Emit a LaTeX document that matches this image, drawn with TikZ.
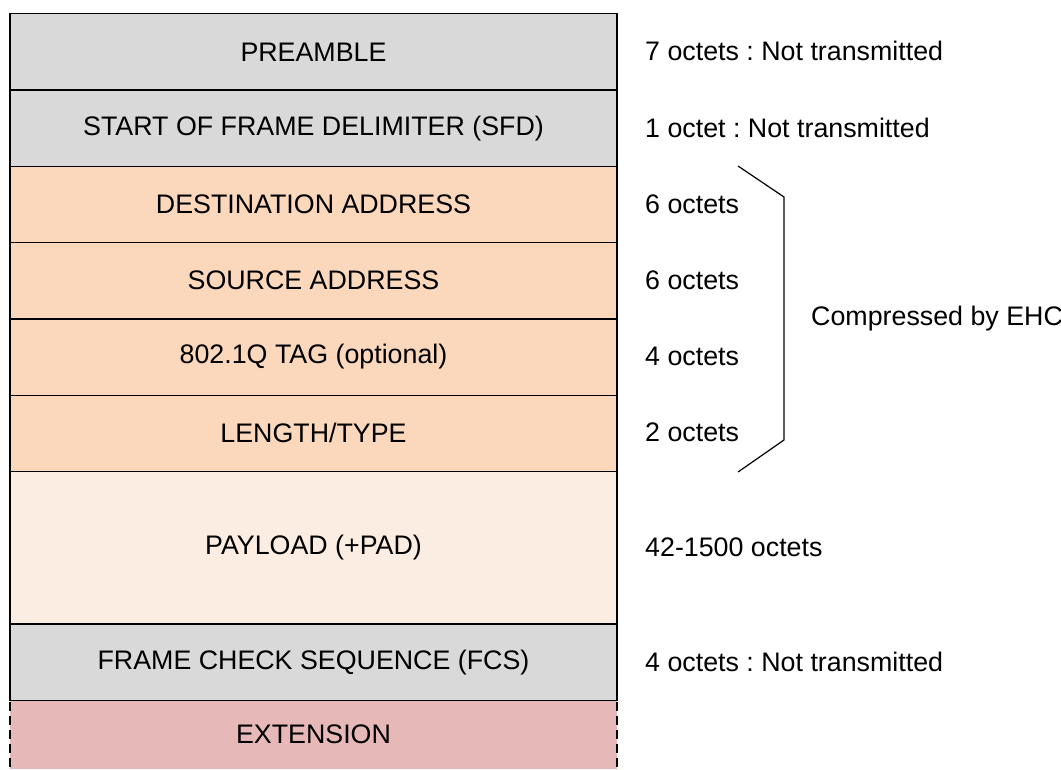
\documentclass[tikz,border=0pt]{standalone}
\usepackage{fontspec}
\setmainfont{Liberation Sans}
\frenchspacing
\definecolor{grayfill}{HTML}{D9D9D9}
\definecolor{peach}{HTML}{FBD7BB}
\definecolor{lightpeach}{HTML}{FCEDE2}
\definecolor{extred}{HTML}{E6B8B7}
\begin{document}
\begin{tikzpicture}[x=1pt,y=-1pt,
  field/.style={draw=black, line width=1.4pt, minimum width=607pt, minimum height=76.3pt, inner sep=0pt, anchor=north, font=\fontsize{26.8}{30}\selectfont},
  note/.style={anchor=west, inner sep=0pt, font=\fontsize{26.8}{30}\selectfont},
  brace/.style={draw=black, line width=1.2pt},
  sidedash/.style={draw=black, line width=2.2pt, dash pattern=on 9pt off 5pt}]
\useasboundingbox (0,0) rectangle (1061,769);
\clip (0,0) rectangle (1061,769);
% extension (drawn first so that FCS outline lies above it)
\node[field, draw=none, fill=extred, minimum height=70pt, outer sep=0pt] (ext) at (313.5,699.3) {EXTENSION};
\draw[sidedash] ([yshift=-3pt]ext.north west) -- (ext.south west);
\draw[sidedash] ([yshift=-3pt]ext.north east) -- (ext.south east);
\node[field, fill=grayfill] (pre) at (313.5,13) {PREAMBLE};
\node[field, fill=grayfill] (sfd) at (313.5,89.3) {START OF FRAME DELIMITER (SFD)};
\node[field, fill=peach] (da) at (313.5,165.6) {DESTINATION ADDRESS};
\node[field, fill=peach] (sa) at (313.5,241.9) {SOURCE ADDRESS};
\node[field, fill=peach] (tag) at (313.5,318.2) {802.1Q TAG (optional)};
\node[field, fill=peach] (len) at (313.5,394.5) {LENGTH/TYPE};
\node[field, fill=lightpeach, minimum height=152.6pt] (pay) at (313.5,470.8) {PAYLOAD (+PAD)};
\node[field, fill=grayfill] (fcs) at (313.5,623.4) {FRAME CHECK SEQUENCE (FCS)};
% right notes
\node[note] (npre) at (645,51.2) {7 octets : Not transmitted};
\node[note] (nsfd) at (645,127.5) {1 octet : Not transmitted};
\node[note] (nda) at (645,203.8) {6 octets};
\node[note] (nsa) at (645,280.1) {6 octets};
\node[note] (ntag) at (645,356.4) {4 octets};
\node[note] (nlen) at (645,432.7) {2 octets};
\node[note] (npay) at (645,547.1) {42-1500 octets};
\node[note] (nfcs) at (645,661.6) {4 octets : Not transmitted};
% bracket
\coordinate (b1) at (738,166);
\coordinate (b2) at (784,197);
\coordinate (b3) at (784,440);
\coordinate (b4) at (738,472);
\draw[brace] (b1) -- (b2) -- (b3) -- (b4);
\node[note] (ehc) at (811,319) {Compressed by EHC};
\end{tikzpicture}
\end{document}
